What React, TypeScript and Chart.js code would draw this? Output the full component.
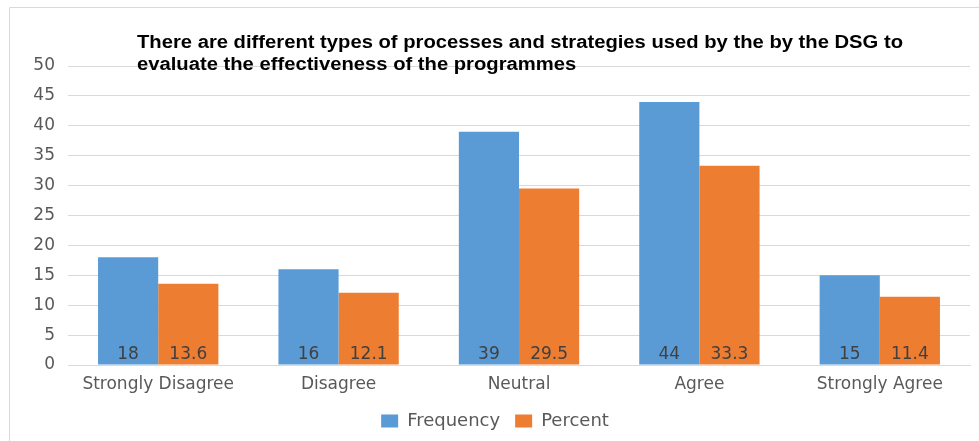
import React, { useEffect, useRef } from "react";
import { Chart, registerables } from "chart.js";

Chart.register(...registerables);

const categories = ["Strongly Disagree", "Disagree", "Neutral", "Agree", "Strongly Agree"];
const frequency = [18, 16, 39, 44, 15];
const percent = [13.6, 12.1, 29.5, 33.3, 11.4];
const titleLines = [
  "There are different types of processes and strategies used by the by the DSG to",
  "evaluate the effectiveness of the programmes",
];

const BLUE = "#5B9BD5";
const ORANGE = "#ED7D31";
const TEXT_GRAY = "#595959";
const FONT = "'DejaVu Sans', 'Open Sans', sans-serif";

// Frame, title and in-bar value labels
const decorations = {
  id: "decorations",
  beforeDraw(chart: any) {
    const { ctx, width, height } = chart;
    ctx.save();
    ctx.fillStyle = "#ffffff";
    ctx.fillRect(0, 0, width, height);
    ctx.strokeStyle = "#d9d9d9";
    ctx.lineWidth = 1;
    ctx.beginPath();
    ctx.moveTo(9.5, height);
    ctx.lineTo(9.5, 7.5);
    ctx.lineTo(width, 7.5);
    ctx.stroke();
    ctx.restore();
  },
  afterDatasetsDraw(chart: any) {
    const { ctx } = chart;
    const yScale = chart.scales.y;
    ctx.save();
    ctx.font = `17px ${FONT}`;
    ctx.fillStyle = "#404040";
    ctx.textAlign = "center";
    ctx.textBaseline = "middle";
    chart.data.datasets.forEach((ds: any, di: number) => {
      const meta = chart.getDatasetMeta(di);
      meta.data.forEach((bar: any, i: number) => {
        ctx.fillText(String(ds.data[i]), bar.x, yScale.getPixelForValue(0) - 10);
      });
    });
    ctx.restore();
  },
  afterDraw(chart: any) {
    const { ctx } = chart;
    ctx.save();
    ctx.font = "bold 18px 'Liberation Sans', Arial, sans-serif";
    ctx.fillStyle = "#000000";
    ctx.textAlign = "left";
    ctx.textBaseline = "alphabetic";
    // the title is set slightly wide: stretch the first line to 766px
    const stretch = 766 / ctx.measureText(titleLines[0]).width;
    ctx.translate(137, 0);
    ctx.scale(stretch, 1);
    ctx.fillText(titleLines[0], 0, 48);
    ctx.fillText(titleLines[1], 0, 70);
    ctx.restore();
  },
};

export default function App() {
  const ref = useRef<HTMLCanvasElement>(null);

  useEffect(() => {
    if (!ref.current) return;
    const chart = new Chart(ref.current, {
      type: "bar",
      data: {
        labels: categories,
        datasets: [
          { label: "Frequency", data: frequency, backgroundColor: BLUE },
          { label: "Percent", data: percent, backgroundColor: ORANGE },
        ],
      },
      options: {
        animation: false,
        responsive: false,
        maintainAspectRatio: false,
        datasets: { bar: { categoryPercentage: 0.667, barPercentage: 1 } },
        layout: { padding: { left: 20, right: 9, top: 66, bottom: 1 } },
        plugins: {
          title: { display: false },
          tooltip: { enabled: false },
          legend: {
            position: "bottom",
            labels: {
              boxWidth: 17,
              boxHeight: 13,
              padding: 15,
              color: TEXT_GRAY,
              font: { family: FONT, size: 18 },
            },
          },
        },
        scales: {
          x: {
            grid: { display: false },
            border: { color: "#d9d9d9" },
            ticks: { color: TEXT_GRAY, font: { family: FONT, size: 17 }, padding: 1 },
            afterFit(scale: any) {
              scale.height = 32;
            },
          },
          y: {
            min: 0,
            max: 50,
            ticks: { stepSize: 5, color: TEXT_GRAY, font: { family: FONT, size: 17 }, padding: 13 },
            grid: { color: "#d9d9d9", drawTicks: false },
            border: { display: false },
            afterFit(scale: any) {
              scale.width = 48;
            },
          },
        },
      },
      plugins: [decorations],
    });
    return () => chart.destroy();
  }, []);

  return (
    <div style={{ position: "fixed", left: 0, top: 0, width: 979, height: 441, background: "#fff" }}>
      <canvas ref={ref} width={979} height={441} style={{ display: "block" }} />
    </div>
  );
}
